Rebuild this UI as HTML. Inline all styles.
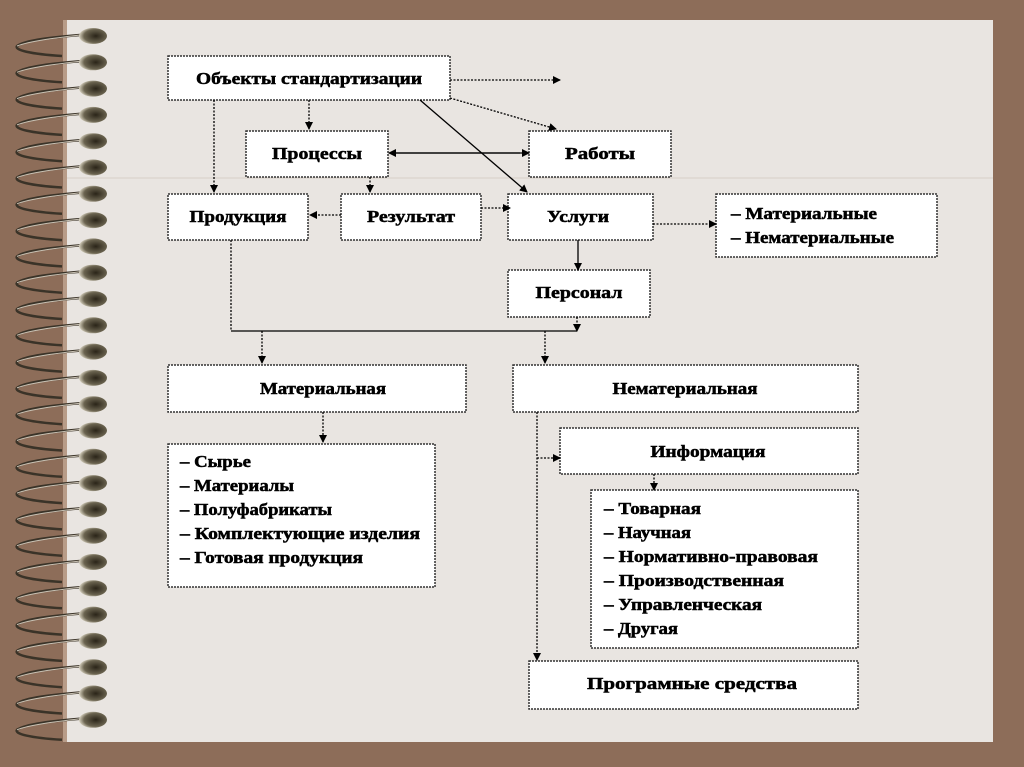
<!DOCTYPE html>
<html><head><meta charset="utf-8"><style>
html,body{margin:0;padding:0;width:1024px;height:767px;overflow:hidden;background:#8d6d59;}
svg{display:block}
text{font-family:"Liberation Serif",serif;font-weight:bold;font-size:17px;fill:#000;stroke:#000;stroke-width:0.5;}
</style></head><body>
<svg width="1024" height="767" xmlns="http://www.w3.org/2000/svg">
<defs>
<marker id="a" markerWidth="8" markerHeight="8" refX="7" refY="4" orient="auto" markerUnits="userSpaceOnUse"><path d="M0,0 L8,4 L0,8 z" fill="#000"/></marker>
<radialGradient id="g" cx="0.6" cy="0.5" r="0.6"><stop offset="0" stop-color="#2a2418"/><stop offset="0.7" stop-color="#6b6450"/><stop offset="1" stop-color="#d8d2c0"/></radialGradient>
<g id="r">
<path d="M62,19 C30,17 14,13 17,9 C25,3 55,0 80,-2" fill="none" stroke="#3a3328" stroke-width="2.5"/>
<path d="M17,9 C30,4 55,1 80,-2" fill="none" stroke="#c9c2b4" stroke-width="1"/>
<ellipse cx="93" cy="-1" rx="14" ry="8" fill="url(#g)"/>
</g>
</defs>
<rect x="63" y="20" width="930" height="722" fill="#e9e5e1"/>
<rect x="63" y="20" width="4" height="722" fill="#b89c88"/>
<line x1="67" y1="178" x2="993" y2="178" stroke="#d8cfc8" stroke-width="1"/>
<use href="#r" y="37"/><use href="#r" y="63.3"/><use href="#r" y="89.6"/><use href="#r" y="115.9"/><use href="#r" y="142.2"/><use href="#r" y="168.5"/><use href="#r" y="194.8"/><use href="#r" y="221.1"/><use href="#r" y="247.4"/><use href="#r" y="273.7"/><use href="#r" y="300"/><use href="#r" y="326.3"/><use href="#r" y="352.6"/><use href="#r" y="378.9"/><use href="#r" y="405.2"/><use href="#r" y="431.5"/><use href="#r" y="457.8"/><use href="#r" y="484.1"/><use href="#r" y="510.4"/><use href="#r" y="536.7"/><use href="#r" y="563"/><use href="#r" y="589.3"/><use href="#r" y="615.6"/><use href="#r" y="641.9"/><use href="#r" y="668.2"/><use href="#r" y="694.5"/><use href="#r" y="720.8"/>
<g fill="#fff" stroke="#333" stroke-width="1.5" stroke-dasharray="2,1">
<rect x="168" y="56" width="282" height="44"/>
<rect x="246" y="131" width="142" height="46"/>
<rect x="529" y="131" width="142" height="46"/>
<rect x="168" y="194" width="140" height="46"/>
<rect x="341" y="194" width="140" height="46"/>
<rect x="508" y="194" width="145" height="46"/>
<rect x="716" y="194" width="221" height="63"/>
<rect x="508" y="270" width="142" height="47"/>
<rect x="168" y="365" width="298" height="47"/>
<rect x="513" y="365" width="345" height="47"/>
<rect x="168" y="444" width="267" height="143"/>
<rect x="560" y="428" width="298" height="46"/>
<rect x="591" y="490" width="267" height="158"/>
<rect x="529" y="661" width="329" height="48"/>
</g>
<g stroke="#000" stroke-width="1.3" fill="none">
<g stroke-dasharray="2,1.5">
<line x1="450" y1="80" x2="560" y2="80" marker-end="url(#a)"/>
<line x1="450" y1="98" x2="556" y2="129" marker-end="url(#a)"/>
<line x1="214" y1="100" x2="214" y2="192" marker-end="url(#a)"/>
<line x1="309" y1="100" x2="309" y2="129" marker-end="url(#a)"/>
<line x1="370" y1="177" x2="370" y2="192" marker-end="url(#a)"/>
<line x1="341" y1="215" x2="310" y2="215" marker-end="url(#a)"/>
<line x1="481" y1="208" x2="510" y2="208" marker-end="url(#a)"/>
<line x1="653" y1="224" x2="716" y2="224" marker-end="url(#a)"/>
<line x1="231" y1="240" x2="231" y2="331"/>
<line x1="262" y1="331" x2="262" y2="363" marker-end="url(#a)"/>
<line x1="545" y1="331" x2="545" y2="363" marker-end="url(#a)"/>
<line x1="323" y1="412" x2="323" y2="442" marker-end="url(#a)"/>
<line x1="537" y1="412" x2="537" y2="660" marker-end="url(#a)"/>
<line x1="537" y1="458" x2="560" y2="458" marker-end="url(#a)"/>
<line x1="654" y1="474" x2="654" y2="490" marker-end="url(#a)"/>
<line x1="577" y1="317" x2="577" y2="331" marker-end="url(#a)"/>
</g>
<line x1="420" y1="100" x2="527" y2="192" marker-end="url(#a)"/>
<line x1="395" y1="153" x2="529" y2="153" marker-end="url(#a)"/>
<line x1="520" y1="153" x2="389" y2="153" marker-end="url(#a)"/>
<line x1="578" y1="240" x2="578" y2="270" marker-end="url(#a)"/>
<line x1="231" y1="331" x2="577" y2="331"/>
</g>
<g text-anchor="middle">
<text x="309" y="84" textLength="226" lengthAdjust="spacingAndGlyphs">Объекты стандартизации</text>
<text x="317" y="159" textLength="90" lengthAdjust="spacingAndGlyphs">Процессы</text>
<text x="600" y="159" textLength="70" lengthAdjust="spacingAndGlyphs">Работы</text>
<text x="238" y="222" textLength="97" lengthAdjust="spacingAndGlyphs">Продукция</text>
<text x="411" y="222" textLength="88" lengthAdjust="spacingAndGlyphs">Результат</text>
<text x="578" y="222" textLength="62" lengthAdjust="spacingAndGlyphs">Услуги</text>
<text x="579" y="298" textLength="87" lengthAdjust="spacingAndGlyphs">Персонал</text>
<text x="323" y="394" textLength="126" lengthAdjust="spacingAndGlyphs">Материальная</text>
<text x="685" y="394" textLength="145" lengthAdjust="spacingAndGlyphs">Нематериальная</text>
<text x="708" y="457" textLength="115" lengthAdjust="spacingAndGlyphs">Информация</text>
<text x="692" y="689" textLength="210" lengthAdjust="spacingAndGlyphs">Програмные средства</text>
</g>
<text x="731" y="219" textLength="146" lengthAdjust="spacingAndGlyphs">– Материальные</text>
<text x="731" y="243" textLength="163" lengthAdjust="spacingAndGlyphs">– Нематериальные</text>
<text x="180" y="467" textLength="71" lengthAdjust="spacingAndGlyphs">– Сырье</text>
<text x="180" y="491" textLength="114" lengthAdjust="spacingAndGlyphs">– Материалы</text>
<text x="180" y="515" textLength="152" lengthAdjust="spacingAndGlyphs">– Полуфабрикаты</text>
<text x="180" y="539" textLength="240" lengthAdjust="spacingAndGlyphs">– Комплектующие изделия</text>
<text x="180" y="563" textLength="183" lengthAdjust="spacingAndGlyphs">– Готовая продукция</text>
<text x="604" y="514" textLength="97" lengthAdjust="spacingAndGlyphs">– Товарная</text>
<text x="604" y="538" textLength="87" lengthAdjust="spacingAndGlyphs">– Научная</text>
<text x="604" y="562" textLength="214" lengthAdjust="spacingAndGlyphs">– Нормативно-правовая</text>
<text x="604" y="586" textLength="180" lengthAdjust="spacingAndGlyphs">– Производственная</text>
<text x="604" y="610" textLength="158" lengthAdjust="spacingAndGlyphs">– Управленческая</text>
<text x="604" y="634" textLength="74" lengthAdjust="spacingAndGlyphs">– Другая</text>
</svg>
</body></html>
